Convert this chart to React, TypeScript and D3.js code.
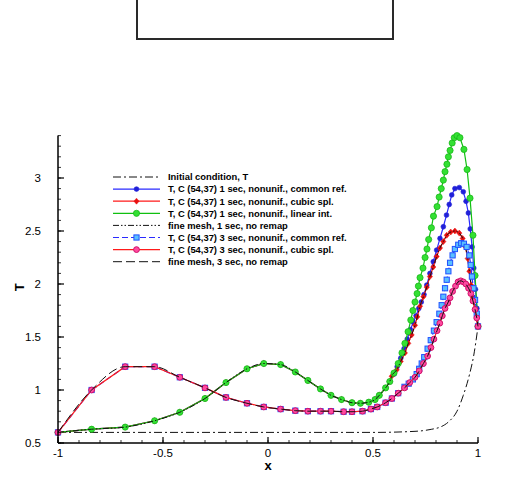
import * as d3 from 'd3';

type Pt = [number, number];

const xTicks = [-1, -0.5, 0, 0.5, 1];
const yTicks = [0.5, 1, 1.5, 2, 2.5, 3];
const xTickLabels = ['-1', '-0.5', '0', '0.5', '1'];
const yTickLabels = ['0.5', '1', '1.5', '2', '2.5', '3'];

// initial condition
const initialT: Pt[] = [
  [-1, 0.6], [0.5, 0.6], [0.7, 0.61], [0.78, 0.63], [0.82, 0.65], [0.86, 0.7],
  [0.9, 0.8], [0.93, 0.95], [0.96, 1.15], [0.98, 1.33], [1, 1.6],
];

// left part, same for every 1 sec run
const oneSecLeft: Pt[] = [
  [-1, 0.6], [-0.84, 0.63], [-0.68, 0.65], [-0.54, 0.71], [-0.42, 0.79], [-0.3, 0.92],
  [-0.2, 1.07], [-0.1, 1.2], [-0.02, 1.25], [0.06, 1.24], [0.13, 1.17], [0.19, 1.09],
  [0.25, 1.01], [0.3, 0.95], [0.35, 0.91], [0.4, 0.88], [0.44, 0.875], [0.48, 0.885],
  [0.51, 0.91], [0.53, 0.95], [0.56, 1.02], [0.58, 1.08],
];

// left part, same for every 3 sec run
const threeSecLeft: Pt[] = [
  [-1, 0.6], [-0.84, 1.0], [-0.68, 1.22], [-0.54, 1.22], [-0.42, 1.12], [-0.3, 1.02],
  [-0.2, 0.93], [-0.1, 0.875], [-0.02, 0.84], [0.06, 0.82], [0.13, 0.805], [0.19, 0.8],
  [0.25, 0.8], [0.3, 0.8], [0.36, 0.795], [0.4, 0.795], [0.45, 0.8], [0.49, 0.82],
  [0.52, 0.84], [0.56, 0.88], [0.59, 0.92], [0.62, 0.97],
];

const blue1Right: Pt[] = [
  [0.6, 1.15], [0.615, 1.22], [0.632, 1.3], [0.648, 1.39], [0.663, 1.48], [0.678, 1.57],
  [0.692, 1.64], [0.705, 1.7], [0.718, 1.77], [0.73, 1.83], [0.743, 1.9], [0.756, 1.99],
  [0.771, 2.1], [0.787, 2.21], [0.803, 2.32], [0.819, 2.43], [0.835, 2.54], [0.85, 2.65],
  [0.863, 2.75], [0.875, 2.84], [0.89, 2.9], [0.911, 2.91], [0.93, 2.87], [0.943, 2.78],
  [0.954, 2.67], [0.963, 2.52], [0.972, 2.35], [0.98, 2.15], [0.988, 1.95], [0.995, 1.77],
  [1, 1.6],
];

const red1Right: Pt[] = [
  [0.589, 1.13], [0.613, 1.19], [0.632, 1.27], [0.652, 1.35], [0.668, 1.44], [0.684, 1.52],
  [0.7, 1.61], [0.711, 1.69], [0.724, 1.79], [0.74, 1.88], [0.756, 1.97], [0.771, 2.07],
  [0.787, 2.16], [0.803, 2.26], [0.819, 2.34], [0.835, 2.4], [0.851, 2.46], [0.87, 2.49],
  [0.89, 2.5], [0.911, 2.48], [0.927, 2.43], [0.94, 2.35], [0.951, 2.24], [0.959, 2.12],
  [0.967, 1.99], [0.975, 1.87], [0.986, 1.75], [1, 1.6],
];

const green1Right: Pt[] = [
  [0.6, 1.16], [0.62, 1.25], [0.638, 1.35], [0.652, 1.44], [0.667, 1.55], [0.68, 1.66],
  [0.69, 1.75], [0.7, 1.83], [0.71, 1.91], [0.716, 1.98], [0.724, 2.06], [0.738, 2.15],
  [0.748, 2.25], [0.757, 2.33], [0.765, 2.42], [0.778, 2.53], [0.788, 2.64], [0.805, 2.73],
  [0.815, 2.82], [0.825, 2.9], [0.835, 2.98], [0.843, 3.06], [0.852, 3.13], [0.859, 3.2],
  [0.867, 3.26], [0.877, 3.33], [0.887, 3.38], [0.9, 3.4], [0.914, 3.38], [0.933, 3.27],
  [0.948, 3.08], [0.962, 2.81], [0.976, 2.46], [0.986, 2.08], [1, 1.6],
];

const square3Right: Pt[] = [
  [0.65, 1.03], [0.67, 1.06], [0.69, 1.1], [0.708, 1.15], [0.72, 1.2], [0.732, 1.25],
  [0.744, 1.31], [0.76, 1.39], [0.775, 1.47], [0.79, 1.56], [0.803, 1.64], [0.816, 1.72],
  [0.827, 1.8], [0.835, 1.88], [0.843, 1.96], [0.851, 2.04], [0.859, 2.12], [0.867, 2.2],
  [0.879, 2.27], [0.89, 2.33], [0.906, 2.37], [0.92, 2.385], [0.933, 2.38], [0.946, 2.35],
  [0.959, 2.27], [0.965, 2.18], [0.971, 2.07], [0.978, 1.96], [0.986, 1.85], [0.994, 1.72],
  [1, 1.6],
];

const pink3Right: Pt[] = [
  [0.65, 1.02], [0.675, 1.07], [0.7, 1.12], [0.72, 1.18], [0.74, 1.25], [0.76, 1.32],
  [0.776, 1.4], [0.79, 1.48], [0.805, 1.56], [0.818, 1.63], [0.83, 1.7], [0.843, 1.77],
  [0.856, 1.82], [0.867, 1.87], [0.879, 1.93], [0.893, 1.98], [0.905, 2.02], [0.918, 2.03],
  [0.93, 2.02], [0.942, 2.0], [0.955, 1.96], [0.966, 1.91], [0.976, 1.84], [0.986, 1.76],
  [0.994, 1.68], [1, 1.6],
];

const legendLabels = [
  'Initial condition, T',
  'T, C (54,37) 1 sec, nonunif., common ref.',
  'T, C (54,37) 1 sec, nonunif., cubic spl.',
  'T, C (54,37) 1 sec, nonunif., linear int.',
  'fine mesh, 1 sec, no remap',
  'T, C (54,37) 3 sec, nonunif., common ref.',
  'T, C (54,37) 3 sec, nonunif., cubic spl.',
  'fine mesh, 3 sec, no remap',
];

type Marker = 'none' | 'circle' | 'diamond' | 'bigcircle' | 'square' | 'ring';

interface Series {
  data: Pt[];
  stroke: string;
  width: number;
  dash?: string;
  marker: Marker;
  fill?: string;
  edge?: string;
  smooth?: boolean;
}

const series: Series[] = [
  { data: initialT, stroke: '#111', width: 1, dash: '8,3,2,3', marker: 'none', smooth: true },
  { data: [...oneSecLeft, ...blue1Right], stroke: '#2a2aff', width: 1.2, marker: 'circle', fill: '#2020d8', edge: '#2020d8' },
  { data: [...oneSecLeft, ...red1Right], stroke: '#ff1a1a', width: 1.2, marker: 'diamond', fill: '#e81010', edge: '#e81010' },
  { data: [...oneSecLeft, ...green1Right], stroke: '#10c010', width: 1.2, marker: 'bigcircle', fill: '#33e033', edge: '#12b012' },
  { data: [...oneSecLeft, ...red1Right], stroke: '#111', width: 1, dash: '6,2,1.5,2,1.5,2', marker: 'none', smooth: true },
  { data: [...threeSecLeft, ...square3Right], stroke: '#2a2aff', width: 1.2, dash: '6,3', marker: 'square', fill: '#5ac0ff', edge: '#2050ff' },
  { data: [...threeSecLeft, ...pink3Right], stroke: '#ff1a1a', width: 1.2, marker: 'ring', fill: '#ff4aa0', edge: '#d0106a' },
  { data: [...threeSecLeft, ...pink3Right], stroke: '#111', width: 1, dash: '9,4', marker: 'none', smooth: true },
];

const xs = d3.scaleLinear().domain([-1, 1]).range([58, 478]);
const ys = d3.scaleLinear().domain([0.5, 3.4]).range([443, 135.6]);

function drawMarker(s: Series, cx: number, cy: number, key: string | number) {
  switch (s.marker) {
    case 'circle':
      return <circle key={key} cx={cx} cy={cy} r={2.4} fill={s.fill} stroke={s.edge} strokeWidth={0.6} />;
    case 'bigcircle':
      return <circle key={key} cx={cx} cy={cy} r={3.1} fill={s.fill} stroke={s.edge} strokeWidth={0.7} />;
    case 'diamond':
      return (
        <path key={key} d={`M${cx},${cy - 3}L${cx + 2.6},${cy}L${cx},${cy + 3}L${cx - 2.6},${cy}Z`} fill={s.fill} stroke={s.edge} strokeWidth={0.5} />
      );
    case 'square':
      return <rect key={key} x={cx - 2.6} y={cy - 2.6} width={5.2} height={5.2} fill={s.fill} stroke={s.edge} strokeWidth={1} />;
    case 'ring':
      return <circle key={key} cx={cx} cy={cy} r={2.9} fill={s.fill} stroke={s.edge} strokeWidth={1} />;
    default:
      return null;
  }
}

export default function App() {
  const straight = d3.line<Pt>().x(d => xs(d[0])).y(d => ys(d[1]));
  const curved = d3.line<Pt>().x(d => xs(d[0])).y(d => ys(d[1])).curve(d3.curveMonotoneX);

  const xMinor = d3.range(-10, 11).map(i => i / 10);
  const yMinor = d3.range(5, 35).map(i => i / 10);
  const font = 'Liberation Sans, Arial, Helvetica, sans-serif';

  const legX0 = 113, legX1 = 160, legTextX = 168, legY0 = 177, legDy = 12.1;

  return (
    <svg width={524} height={484} style={{ position: 'absolute', left: 0, top: 0, background: '#fff' }} fontFamily={font}>
      <rect x={137} y={-3} width={256} height={42} fill="#fff" stroke="#2a2a2a" strokeWidth={2} />

      {/* curves */}
      {series.map((s, i) => (
        <g key={i}>
          <path d={(s.smooth ? curved : straight)(s.data) || ''} fill="none" stroke={s.stroke} strokeWidth={s.width} strokeDasharray={s.dash} />
          {s.marker !== 'none' && s.data.map((d, j) => drawMarker(s, xs(d[0]), ys(d[1]), j))}
        </g>
      ))}

      {/* axes */}
      <line x1={xs(-1)} x2={xs(1)} y1={ys(0.5)} y2={ys(0.5)} stroke="#000" strokeWidth={1.5} />
      <line x1={xs(-1)} x2={xs(-1)} y1={ys(0.5)} y2={ys(3.4)} stroke="#000" strokeWidth={1.5} />
      {xMinor.map((t, i) => (
        <line key={'xm' + i} x1={xs(t)} x2={xs(t)} y1={ys(0.5)} y2={ys(0.5) - 3} stroke="#000" strokeWidth={0.8} />
      ))}
      {xTicks.map((t, i) => (
        <g key={'xt' + i}>
          <line x1={xs(t)} x2={xs(t)} y1={ys(0.5)} y2={ys(0.5) - 6} stroke="#000" strokeWidth={1.2} />
          <text x={xs(t)} y={ys(0.5) + 14} fontSize={11.5} textAnchor="middle">{xTickLabels[i]}</text>
        </g>
      ))}
      {yMinor.map((t, i) => (
        <line key={'ym' + i} x1={xs(-1)} x2={xs(-1) + 3} y1={ys(t)} y2={ys(t)} stroke="#000" strokeWidth={0.8} />
      ))}
      {yTicks.map((t, i) => (
        <g key={'yt' + i}>
          <line x1={xs(-1)} x2={xs(-1) + 6} y1={ys(t)} y2={ys(t)} stroke="#000" strokeWidth={1.2} />
          <text x={xs(-1) - 17} y={ys(t) + 4} fontSize={11.5} textAnchor="end">{yTickLabels[i]}</text>
        </g>
      ))}
      <text x={xs(0)} y={470} fontSize={13} fontWeight="bold" textAnchor="middle">x</text>
      <text transform={`translate(24,${ys(1.97)}) rotate(-90)`} fontSize={13} fontWeight="bold" textAnchor="middle">T</text>

      {/* legend */}
      {legendLabels.map((lab, i) => {
        const s = series[i];
        const ly = legY0 + i * legDy;
        return (
          <g key={'lg' + i}>
            <line x1={legX0} x2={legX1} y1={ly} y2={ly} stroke={s.stroke} strokeWidth={s.width} strokeDasharray={s.dash} />
            {drawMarker(s, (legX0 + legX1) / 2, ly, 'm')}
            <text x={legTextX} y={ly + 3.3} fontSize={9.4} fontWeight="bold">{lab}</text>
          </g>
        );
      })}
    </svg>
  );
}
